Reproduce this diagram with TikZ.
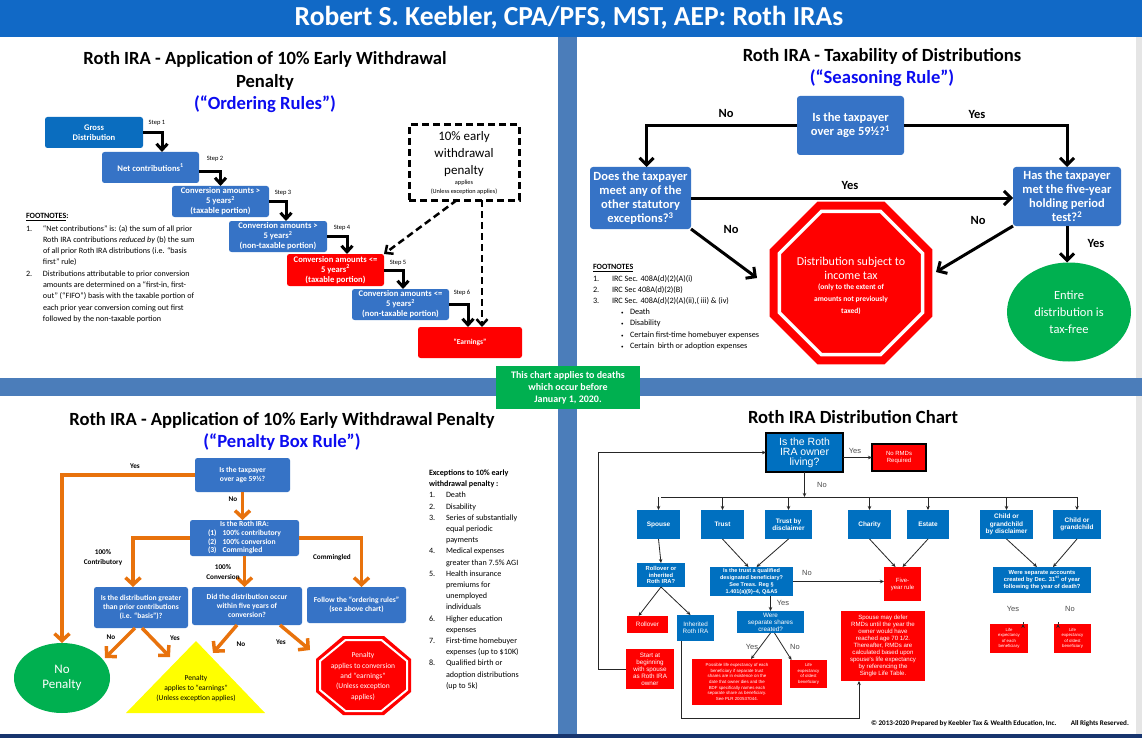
\documentclass[tikz,border=0pt]{standalone}
\usepackage{fontspec}
\setmainfont{Carlito}
\newfontfamily\arialf{Liberation Sans}
\usetikzlibrary{arrows.meta,shapes.geometric,calc}
\definecolor{topbar}{HTML}{1169C6}
\definecolor{divider}{HTML}{4B7DBA}
\definecolor{boxblue}{HTML}{3673C6}
\definecolor{darkblue}{HTML}{0A6DBF}
\definecolor{chartblue}{HTML}{0070C0}
\definecolor{titleblue}{HTML}{0C0CF0}
\definecolor{stopred}{HTML}{FF0000}
\definecolor{okgreen}{HTML}{00B050}
\definecolor{orangeline}{HTML}{E8720C}
\definecolor{navy}{HTML}{17356E}
\definecolor{warnyellow}{HTML}{FFFF00}
\newcommand\fsz[2]{\fontsize{#1}{#2}\selectfont}
\begin{document}
\begin{tikzpicture}[x=1pt,y=-1pt,
  every node/.style={inner sep=0pt, outer sep=0pt},
  qtitle/.style={font=\bfseries\fsz{18.6}{23.5}, align=center},
  qsub/.style={font=\bfseries\fsz{18.6}{20}, text=titleblue},
  stepbox/.style={rectangle, rounded corners=2.5pt, fill=boxblue, text=white, font=\bfseries\fsz{8.6}{10}, align=center},
  steparrow/.style={draw=black, line width=3pt, -{Straight Barb[length=6pt,width=11pt]}},
  dasharrow/.style={draw=black, line width=2.5pt, dash pattern=on 7pt off 4pt, -{Straight Barb[length=6pt,width=11pt]}},
  steplbl/.style={font=\fsz{6.5}{8}},
  qbox/.style={rectangle, rounded corners=3pt, fill=boxblue, text=white, font=\bfseries\fsz{12.5}{14}, align=center},
  bigarrow/.style={draw=black, line width=3pt, -{Straight Barb[length=7pt,width=14pt]}},
  biglbl/.style={font=\bfseries\fsz{12.5}{14}},
  pbox/.style={rectangle, rounded corners=2.5pt, fill=boxblue, text=white, font=\bfseries\fsz{7.6}{9.2}, align=center},
  oarrow/.style={draw=orangeline, line width=3.5pt, -{Straight Barb[length=7pt,width=15pt]}},
  olbl/.style={font=\bfseries\fsz{7.2}{10.5}, align=center},
  cbox/.style={rectangle, fill=chartblue, text=white, font=\arialf\bfseries\fsz{6.5}{7.5}, align=center},
  rbox/.style={rectangle, fill=stopred, text=white, font=\arialf\fsz{6}{7}, align=center},
  carrow/.style={draw=black!85, line width=0.8pt, -{Stealth[length=4pt,width=3.5pt]}},
  cline/.style={draw=black!85, line width=0.8pt},
  clbl/.style={font=\arialf\fsz{7.5}{9}, text=black!70},
]
\useasboundingbox (0,0) rectangle (1142,738);
\fill[white] (0,0) rectangle (1142,738);
% ---------- frame ----------
\fill[topbar] (0,0) rectangle (1142,37);
\node[font=\bfseries\fsz{27.5}{30}, text=white] (header) at (569,18) {Robert S. Keebler, CPA/PFS, MST, AEP: Roth IRAs};
\fill[black!10] (1136,37) rectangle (1142,734);
\fill[divider] (558,37) rectangle (577,734);
\fill[divider] (0,378) rectangle (1142,396);
\fill[navy] (0,734) rectangle (1142,738);
\node[fill=okgreen, text=white, font=\bfseries\fsz{10}{12}, align=center, minimum width=144pt, minimum height=43pt] (note) at (568,387.5) {This chart applies to deaths\\which occur before\\January 1, 2020.};

% ---------- top left : ordering rules ----------
\node[qtitle] (tlT) at (265,71) {Roth IRA - Application of 10\% Early Withdrawal\\Penalty};
\node[qsub] (tlS) at (265,104) {(“Ordering Rules”)};
\node[stepbox, fill=darkblue, minimum width=98pt, minimum height=31pt] (gross) at (94,132.5) {Gross\\Distribution};
\node[stepbox, minimum width=97pt, minimum height=31pt] (net) at (150.5,167.5) {Net contributions\textsuperscript{1}};
\node[stepbox, minimum width=97pt, minimum height=31pt] (conv1) at (220.5,201.5) {Conversion amounts >\\5 years\textsuperscript{2}\\(taxable portion)};
\node[stepbox, minimum width=98pt, minimum height=31pt] (conv2) at (278,236.5) {Conversion amounts >\\5 years\textsuperscript{2}\\(non-taxable portion)};
\node[stepbox, fill=stopred, minimum width=97pt, minimum height=32pt] (conv3) at (335.5,270) {Conversion amounts <=\\5 years\textsuperscript{2}\\(taxable portion)};
\node[stepbox, minimum width=97pt, minimum height=31pt] (conv4) at (400.5,304.5) {Conversion amounts <=\\5 years\textsuperscript{2}\\(non-taxable portion)};
\node[stepbox, fill=stopred, minimum width=104pt, minimum height=31pt, font=\bfseries\fsz{7.5}{9}] (earn) at (470,342.5) {“Earnings”};
\node[draw=black, line width=3pt, dash pattern=on 7pt off 4pt, minimum width=110pt, minimum height=75pt] (dashbox) at (464,162.5) {};
\node[font=\fsz{13}{17}, align=center] (dashtxt) at (464,154) {10\% early\\withdrawal\\penalty};
\node[font=\fsz{6.3}{9}, align=center] (dashsm) at (464,187.5) {applies\\(Unless exception applies)};

\draw[steparrow] (gross.east) -| ($(net.north)+(11.5,0)$);
\draw[steparrow] ($(net.east)+(0,4)$) -| (conv1.north);
\draw[steparrow] (conv1.east) -| ($(conv2.north)+(8,0)$);
\draw[steparrow] (conv2.east) -| ($(conv3.north)+(11.5,0)$);
\draw[steparrow] (conv3.east) -| ($(conv4.north)+(2.5,0)$);
\draw[steparrow] (conv4.east) -| ($(earn.north)+(-2,0)$);
\node[steplbl] (s1) at (157,123) {Step 1};
\node[steplbl] (s2) at (215,159) {Step 2};
\node[steplbl] (s3) at (283,193) {Step 3};
\node[steplbl] (s4) at (342,228) {Step 4};
\node[steplbl] (s5) at (398,263) {Step 5};
\node[steplbl] (s6) at (462,293) {Step 6};
\draw[dasharrow] ($(dashbox.south)+(-7,0)$) -- (conv3.north east);
\draw[dasharrow] ($(dashbox.south)+(18,0)$) -- ($(earn.north)+(12,0)$);

\node[font=\bfseries\fsz{8}{10}, anchor=west] (tlFh) at (26,217) {\underline{FOOTNOTES}:};
\node[font=\fsz{8.1}{11.1}, anchor=north west] (tlF) at (26,223.8) {\begin{tabular}{@{}p{17pt}@{}l@{}}
1.&“Net contributions” is: (a) the sum of all prior\\
&Roth IRA contributions \textit{reduced by} (b) the sum\\
&of all prior Roth IRA distributions (i.e. “basis\\
&first” rule)\\[0.8pt]
2.&Distributions attributable to prior conversion\\
&amounts are determined on a “first-in, first-\\
&out” (“FIFO”) basis with the taxable portion of\\
&each prior year conversion coming out first\\
&followed by the non-taxable portion
\end{tabular}};

% ---------- top right : seasoning rule ----------
\node[qtitle] (trT) at (882,56) {Roth IRA - Taxability of Distributions};
\node[qsub] (trS) at (882,78) {(“Seasoning Rule”)};
\node[qbox, minimum width=107pt, minimum height=59pt] (q1) at (850.5,125.5) {Is the taxpayer\\over age 59½?\textsuperscript{1}};
\node[qbox, minimum width=101pt, minimum height=62pt] (q2) at (640.5,198) {Does the taxpayer\\meet any of the\\other statutory\\exceptions?\textsuperscript{3}};
\node[qbox, minimum width=108pt, minimum height=59pt] (q3) at (1067,196.5) {Has the taxpayer\\met the five-year\\holding period\\test?\textsuperscript{2}};
\node[regular polygon, regular polygon sides=8, minimum size=176pt, fill=stopred] (stop) at (851,283) {};
\node[regular polygon, regular polygon sides=8, minimum size=155pt, draw=white, line width=3.5pt] (stopring) at (851,283) {};
\node[font=\fsz{12}{14}, text=white, align=center] (stoptxt) at (851,268) {Distribution subject to\\income tax};
\node[font=\bfseries\fsz{7.5}{12}, text=white, align=center] (stopsm) at (851,299) {(only to the extent of\\amounts not previously\\taxed)};
\node[ellipse, fill=okgreen, minimum width=124pt, minimum height=99pt, text=white, font=\fsz{12.5}{17}, align=center] (tf) at (1069,312) {Entire\\distribution is\\tax-free};
\coordinate (stopL) at (757,278);
\coordinate (stopR) at (936,272);
\draw[bigarrow] (q1.west) -| ($(q2.north)+(6,0)$);
\draw[bigarrow] (q1.east) -| (q3.north);
\draw[bigarrow] (q2.east) -- (q2.east -| q3.west);
\draw[bigarrow] (q2.south east) -- (stopL);
\draw[bigarrow] (q3.south west) -- (stopR);
\draw[bigarrow] (q3.south) -- (q3.south |- tf.north);
\node[biglbl] (l1) at (726,113) {No};
\node[biglbl] (l2) at (977,114) {Yes};
\node[biglbl] (l3) at (850,185) {Yes};
\node[biglbl] (l4) at (731,229) {No};
\node[biglbl] (l5) at (978,220) {No};
\node[biglbl] (l6) at (1096,243) {Yes};
\node[font=\bfseries\fsz{8}{10}, anchor=west] (trFh) at (593,268) {\underline{FOOTNOTES}};
\node[font=\fsz{8.2}{11.1}, anchor=north west] (trF) at (593,273.8) {\begin{tabular}{@{}p{19pt}@{}l@{}}
1.&IRC Sec. 408A(d)(2)(A)(i)\\
2.&IRC Sec 408A(d)(2)(B)\\
3.&IRC Sec. 408A(d)(2)(A)(ii),( iii) \& (iv)\\
&\hspace{9pt}\makebox[9pt][l]{\fsz{5}{6}\textbullet}Death\\
&\hspace{9pt}\makebox[9pt][l]{\fsz{5}{6}\textbullet}Disability\\
&\hspace{9pt}\makebox[9pt][l]{\fsz{5}{6}\textbullet}Certain first-time homebuyer expenses\\
&\hspace{9pt}\makebox[9pt][l]{\fsz{5}{6}\textbullet}Certain\ \ birth or adoption expenses
\end{tabular}};

% ---------- bottom left : penalty box rule ----------
\node[qtitle] (blT) at (282,420) {Roth IRA - Application of 10\% Early Withdrawal Penalty};
\node[qsub] (blS) at (282,442) {(“Penalty Box Rule”)};
\node[pbox, minimum width=95pt, minimum height=34pt] (b1) at (242.5,475) {Is the taxpayer\\over age 59½?};
\node[pbox, minimum width=109pt, minimum height=36pt, font=\bfseries\fsz{7.6}{8.7}] (b2) at (244.5,538) {\begin{tabular}{@{}l@{\hspace{6pt}}l@{}}\multicolumn{2}{c}{Is the Roth IRA:}\\(1)&100\% contributory\\(2)&100\% conversion\\(3)&Commingled\end{tabular}};
\node[pbox, minimum width=94pt, minimum height=41pt] (b3) at (141,607.5) {Is the distribution greater\\than prior contributions\\(i.e. “basis”)?};
\node[pbox, minimum width=110pt, minimum height=38pt] (b4) at (247,606) {Did the distribution occur\\within five years of\\conversion?};
\node[pbox, minimum width=99pt, minimum height=36pt] (b5) at (356.5,605) {Follow the “ordering rules”\\(see above chart)};
\node[ellipse, fill=okgreen, minimum width=96pt, minimum height=70pt, text=white, font=\fsz{13}{15}, align=center] (nopen) at (62,678) {No\\Penalty};
\fill[warnyellow] (196,641) -- (265,713) -- (126,713) -- cycle;
\node[font=\fsz{7.5}{10}, align=center] (tritxt) at (196,688) {Penalty\\applies to “earnings”\\(Unless exception applies)};
\fill[stopred] (343,636) -- (384,636) -- (411,659) -- (411,692) -- (384,715) -- (343,715) -- (316,692) -- (316,659) -- cycle;
\draw[white, line width=2pt] (345.5,640) -- (381.5,640) -- (407,661) -- (407,690) -- (381.5,711) -- (345.5,711) -- (320,690) -- (320,661) -- cycle;
\node[font=\fsz{7.5}{10.3}, text=white, align=center] (octtxt) at (363,676.5) {Penalty\\applies to conversion\\and “earnings”\\(Unless exception\\applies)};
\coordinate (t1) at (105,658);
\coordinate (t2) at (170,657);
\coordinate (t3) at (213,653);
\coordinate (t4) at (310,650);
\draw[oarrow] (b1.west) -| (nopen.north);
\draw[oarrow] (b1.south) -- (b1.south |- b2.north);
\draw[oarrow] (b2.west) -| ($(b3.north)+(-8,0)$);
\draw[oarrow] (b2.south) -- (b2.south |- b4.north);
\draw[oarrow] (b2.east) -| ($(b5.north)+(5,0)$);
\draw[oarrow] ($(b3.south)+(-6,0)$) -- (t1);
\draw[oarrow] ($(b3.south)+(1,0)$) -- (t2);
\draw[oarrow] ($(b4.south)+(-10,0)$) -- (t3);
\draw[oarrow] ($(b4.south)+(33,0)$) -- (t4);
\node[olbl] (o1) at (135,466) {Yes};
\node[olbl] (o2) at (233,499) {No};
\node[olbl] (o3) at (103,557.5) {100\%\\Contributory};
\node[olbl] (o4) at (223,572) {100\%\\Conversion};
\node[olbl] (o5) at (332,558) {Commingled};
\node[olbl] (o6) at (111,637) {No};
\node[olbl] (o7) at (175,638) {Yes};
\node[olbl] (o8) at (241,644) {No};
\node[olbl] (o9) at (281,642) {Yes};
\node[font=\fsz{8.1}{11.2}, anchor=north west] (exc) at (429,467.6) {\begin{tabular}{@{}p{17pt}@{}l@{}}
\multicolumn{2}{@{}l@{}}{\bfseries Exceptions to 10\% early}\\
\multicolumn{2}{@{}l@{}}{\bfseries withdrawal penalty :}\\
1.&Death\\
2.&Disability\\
3.&Series of substantially\\
&equal periodic\\
&payments\\
4.&Medical expenses\\
&greater than 7.5\% AGI\\
5.&Health insurance\\
&premiums for\\
&unemployed\\
&individuals\\
6.&Higher education\\
&expenses\\
7.&First-time homebuyer\\
&expenses (up to \$10K)\\
8.&Qualified birth or\\
&adoption distributions\\
&(up to 5k)
\end{tabular}};

% ---------- bottom right : distribution chart ----------
\node[qtitle] (brT) at (853,417) {Roth IRA Distribution Chart};
\node[cbox, draw=black, line width=2pt, minimum width=77pt, minimum height=39pt, font=\arialf\fsz{10.5}{10}] (owner) at (804.5,452.5) {Is the Roth\\IRA owner\\living?};
\node[rbox, draw=black, line width=1.5pt, minimum width=54pt, minimum height=27pt, font=\arialf\fsz{6}{7}] (normd) at (899,457.5) {No RMDs\\Required};
\node[cbox, minimum width=43pt, minimum height=29pt] (spouse) at (658.5,524.5) {Spouse};
\node[cbox, minimum width=43pt, minimum height=29pt] (trust) at (722.5,524.5) {Trust};
\node[cbox, minimum width=47pt, minimum height=29pt] (trustd) at (788.5,524.5) {Trust by\\disclaimer};
\node[cbox, minimum width=43pt, minimum height=29pt] (charity) at (869.5,524.5) {Charity};
\node[cbox, minimum width=42pt, minimum height=29pt] (estate) at (928,524.5) {Estate};
\node[cbox, minimum width=53pt, minimum height=29pt] (childd) at (1006.5,524.5) {Child or\\grandchild\\by disclaimer};
\node[cbox, minimum width=48pt, minimum height=29pt] (child) at (1077,524.5) {Child or\\grandchild};
\node[cbox, minimum width=48pt, minimum height=24pt, font=\arialf\bfseries\fsz{5.8}{6.8}] (rollq) at (661,575) {Rollover or\\inherited\\Roth IRA?};
\node[cbox, minimum width=83pt, minimum height=29pt, font=\arialf\bfseries\fsz{5.5}{6.8}] (trustq) at (751.5,581.5) {Is the trust a qualified\\designated beneficiary?\\See Treas. Reg §\\1.401(a)(9)–4, Q\&A5};
\node[rbox, minimum width=37pt, minimum height=34pt] (five) at (902.5,584) {Five-\\year rule};
\node[cbox, minimum width=98pt, minimum height=26pt, font=\arialf\bfseries\fsz{5.8}{7}] (sepacc) at (1042,580) {Were separate accounts\\created by Dec. 31\textsuperscript{st} of year\\following the year of death?};
\node[rbox, minimum width=38pt, minimum height=29pt, font=\arialf\fsz{4.3}{5.5}] (leeach) at (1009,638.5) {Life\\expectancy\\of each\\beneficiary};
\node[rbox, minimum width=37pt, minimum height=29pt, font=\arialf\fsz{4.3}{5.5}] (leold2) at (1072.5,638.5) {Life\\expectancy\\of oldest\\beneficiary};
\node[rbox, minimum width=41pt, minimum height=17pt, font=\arialf\fsz{6.3}{7}] (rollover) at (647.5,624.5) {Rollover};
\node[cbox, minimum width=37pt, minimum height=26pt, font=\arialf\fsz{6.3}{7.3}] (inherited) at (695.5,628) {Inherited\\Roth IRA};
\node[rbox, minimum width=48pt, minimum height=40pt, font=\arialf\fsz{6.3}{7}] (startb) at (650,669) {Start at\\beginning\\with spouse\\as Roth IRA\\owner};
\node[cbox, minimum width=67pt, minimum height=22pt, font=\arialf\fsz{6.3}{7}] (sepsh) at (770.5,622) {Were\\separate shares\\created?};
\node[rbox, minimum width=90pt, minimum height=46pt, font=\arialf\fsz{4.4}{5.7}] (possible) at (737,682) {Possible life expectancy of each\\beneficiary if separate trust\\shares are in existence on the\\date that owner dies and the\\BDF specifically names each\\separate share as beneficiary.\\See PLR 200537044.};
\node[rbox, minimum width=37pt, minimum height=28pt, font=\arialf\fsz{4.3}{5.5}] (leold1) at (808.5,674) {Life\\expectancy\\of oldest\\beneficiary};
\node[rbox, minimum width=84pt, minimum height=70pt, font=\arialf\fsz{6.1}{7.1}] (spdefer) at (883,646) {Spouse may defer\\RMDs until the year the\\owner would have\\reached age 70 1/2.\\Thereafter, RMDs are\\calculated based upon\\spouse's life expectancy\\by referencing the\\Single Life Table.};
\coordinate (busL) at (661,497);
\coordinate (busR) at (1077,497);
\draw[carrow] (normd.west -| owner.east) -- (normd.west);
\draw[carrow] (owner.south) -- (owner.south |- busL);
\draw[cline] (busL) -- (busR);
\foreach \n in {spouse,trust,trustd,charity,estate,childd,child}
  \draw[carrow] (\n.north |- busL) -- (\n.north);
\draw[carrow] (spouse.south) -- (rollq.north);
\draw[carrow] (trust.south) -- ($(trustq.north)+(-3,0)$);
\draw[carrow] (trustd.south) -- ($(trustq.north)+(5,0)$);
\draw[carrow] (trustq.east) -- (trustq.east -| five.west);
\draw[carrow] (charity.south) -- ($(five.north)+(-7,0)$);
\draw[carrow] (estate.south) -- ($(five.north)+(0,0)$);
\draw[carrow] (childd.south) -- ($(sepacc.north)+(-5,0)$);
\draw[carrow] (child.south) -- ($(sepacc.north)+(11,0)$);
\draw[carrow] ($(leeach.north)+(14,0)$ |- sepacc.south) -- ($(leeach.north)+(14,0)$);
\draw[carrow] ($(leold2.north)+(-14.5,0)$ |- sepacc.south) -- ($(leold2.north)+(-14.5,0)$);
\draw[carrow] (rollq.south) -- ($(rollover.north)+(-9,0)$);
\draw[carrow] (rollq.south) -- ($(inherited.north)+(-5,0)$);
\draw[carrow] (sepsh.north |- trustq.south) -- (sepsh.north);
\draw[carrow] (sepsh.south) -- ($(possible.north)+(14,0)$);
\draw[carrow] ($(sepsh.south)+(4,0)$) -- ($(leold1.north)+(-17,0)$);
\draw[carrow] (startb.west) -- ++(-28,0) |- (owner.west);
\draw[carrow] ($(inherited.south)+(-14,0)$) -- ++(0,77) -| ($(spdefer.south)+(-24,0)$);
\node[clbl] (c1) at (855,451) {Yes};
\node[clbl] (c2) at (822,485) {No};
\node[clbl] (c3) at (807,573) {No};
\node[clbl] (c4) at (783,603) {Yes};
\node[clbl] (c5) at (752,647) {Yes};
\node[clbl] (c6) at (795,647) {No};
\node[clbl] (c7) at (1013,609) {Yes};
\node[clbl] (c8) at (1070,609) {No};
\node[font=\bfseries\fsz{7.1}{8}] (copy) at (1000,724) {© 2013-2020 Prepared by Keebler Tax \& Wealth Education, Inc.\quad\quad All Rights Reserved.};
\end{tikzpicture}
\end{document}
